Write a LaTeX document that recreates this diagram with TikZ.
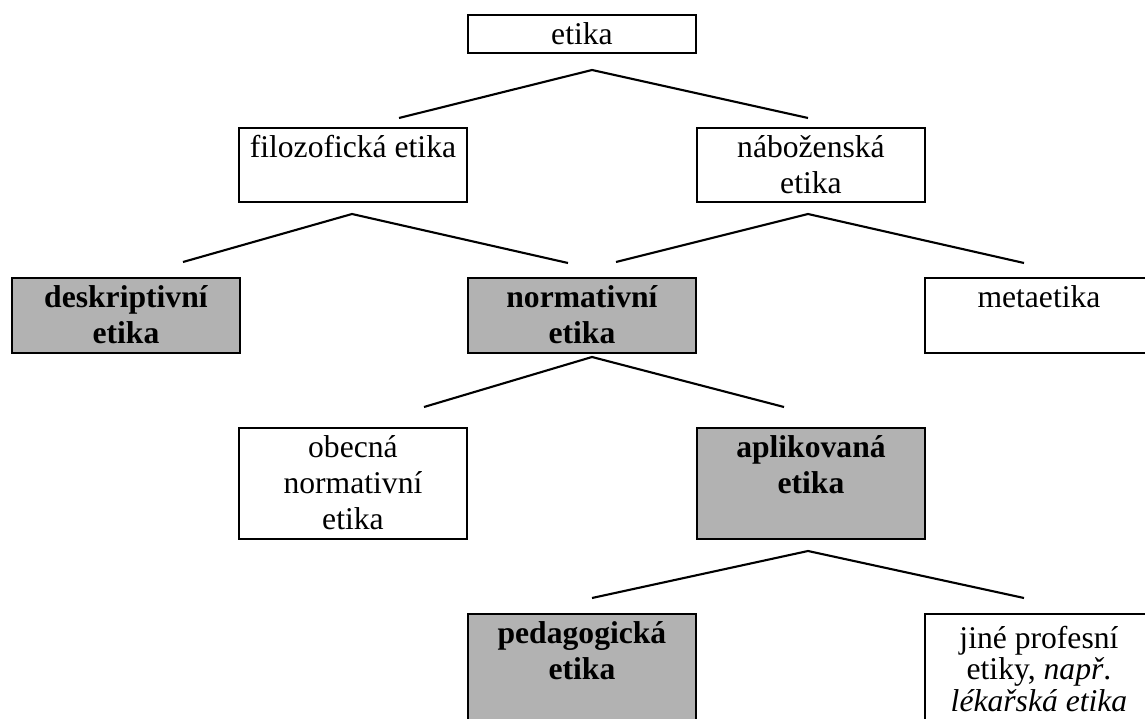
\documentclass[tikz,border=0pt]{standalone}
\usepackage{fontspec}
\setmainfont{Liberation Serif}
\usetikzlibrary{calc}
\tikzset{
	cell/.style={draw, line width=1.1pt, anchor=north west, inner sep=0pt, font=\fontsize{18}{20.5}\selectfont},
	shaded/.style={cell, fill=black!30, font=\fontsize{18}{20.5}\selectfont\bfseries},
	branch/.style={line width=1.2pt}
}
\def\celltext[#1]#2{\parbox[c][#1][t]{4.56cm}{\centering\rule{0pt}{16.8pt}#2}}

\begin{document}
\begin{tikzpicture}[x=0.02cm, y=-0.02cm]
			%%%%% START %%%%%
			\useasboundingbox (0, 0) rectangle (1145, 719);
			
			\node[cell] (etika) at (467, 14) {\celltext[0.76cm]{etika}};
			
			\node[cell] (filozoficka) at (238, 127) {\celltext[1.48cm]{filozofická etika}};
			\node[cell] (nabozenska) at (696, 127) {\celltext[1.48cm]{náboženská\\etika}};
			
			\node[shaded] (deskriptivni) at (11, 277) {\celltext[1.5cm]{deskriptivní\\etika}};
			\node[shaded] (normativni) at (467, 277) {\celltext[1.5cm]{normativní\\etika}};
			\node[cell] (metaetika) at (924, 277) {\celltext[1.5cm]{metaetika}};
			
			\node[cell] (obecna) at (238, 427) {\celltext[2.22cm]{obecná\\normativní\\etika}};
			\node[shaded] (aplikovana) at (696, 427) {\celltext[2.22cm]{aplikovaná\\etika}};
			
			\node[shaded] (pedagogicka) at (467, 613) {\celltext[2.6cm]{pedagogická\\etika}};
			\node[cell] (profesni) at (924, 613) {\celltext[2.6cm]{\fontsize{18}{18}\selectfont\rule{0pt}{19.5pt}jiné profesní\\etiky, \textit{např}.\\\textit{lékařská etika}}};
			
			% branch points
			\coordinate (etL) at (399, 118);
			\coordinate (etA) at (592, 70);
			\coordinate (etR) at (808, 118);
			
			\coordinate (fiL) at (183, 262);
			\coordinate (fiA) at (352, 214);
			\coordinate (fiR) at (568, 263);
			
			\coordinate (naL) at (616, 262);
			\coordinate (naA) at (808, 214);
			\coordinate (naR) at (1024, 263);
			
			\coordinate (noL) at (424, 407);
			\coordinate (noA) at (592, 357);
			\coordinate (noR) at (784, 407);
			
			\coordinate (apL) at (592, 598);
			\coordinate (apA) at (808, 551);
			\coordinate (apR) at (1024, 598);
			
			\draw[branch] (etL) -- (etA) -- (etR);
			\draw[branch] (fiL) -- (fiA) -- (fiR);
			\draw[branch] (naL) -- (naA) -- (naR);
			\draw[branch] (noL) -- (noA) -- (noR);
			\draw[branch] (apL) -- (apA) -- (apR);
			
			%%%%% END %%%%%
\end{tikzpicture}
\end{document}
